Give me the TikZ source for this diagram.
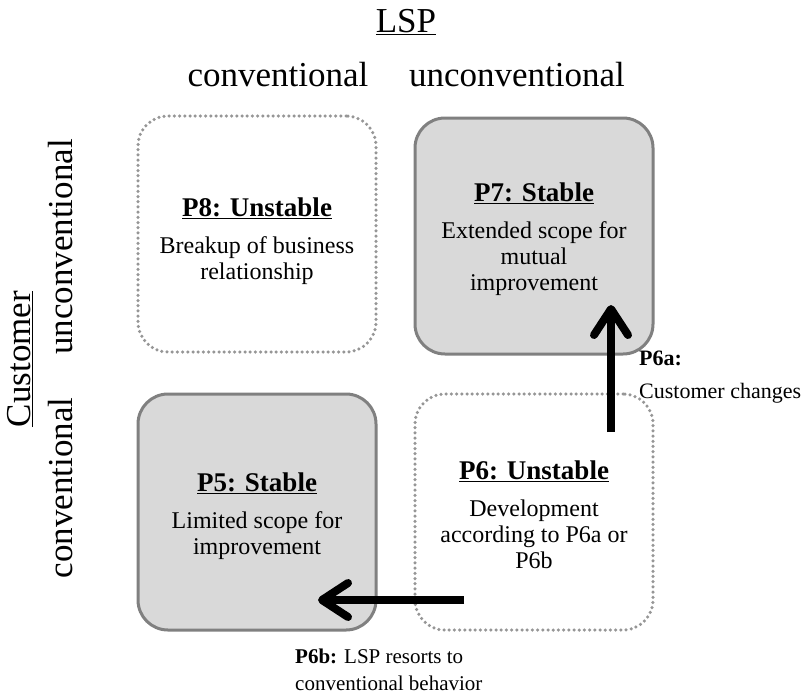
\documentclass[tikz,border=0pt]{standalone}
\usepackage{fontspec}
\setmainfont{Liberation Serif}
\usetikzlibrary{arrows.meta}
\definecolor{boxgray}{RGB}{217,217,217}
\definecolor{edgegray}{RGB}{128,128,128}
\definecolor{dotgray}{RGB}{150,150,150}
\newcommand\qtitle[1]{{\fontsize{27}{30}\selectfont\bfseries\underline{#1}}}
\begin{document}
\begin{tikzpicture}[x=1pt,y=-1pt,
  quad/.style={minimum width=238pt, minimum height=236pt, rounded corners=30pt, inner sep=0pt},
  stablebox/.style={quad, draw=edgegray, line width=3pt, fill=boxgray},
  unstablebox/.style={quad, draw=dotgray, line width=3.5pt,
    dash pattern=on 0pt off 5.2pt, line cap=round},
  quadtext/.style={align=center, inner sep=0pt, font=\fontsize{24}{26}\selectfont},
  axislabel/.style={font=\fontsize{35}{40}\selectfont, inner sep=0pt},
  sidelabel/.style={axislabel, rotate=90},
  movearrow/.style={line width=8pt, -{Straight Barb[length=26pt,width=34pt,round]}},
  movelabel/.style={align=left, inner sep=0pt}]
\useasboundingbox (0,0) rectangle (802,696);

% axis headings
\node[axislabel] (lsp) at (406,22) {\underline{LSP}};
\node[axislabel] (lspconv) at (278,75) {conventional};
\node[axislabel] (lspunconv) at (517,75) {unconventional};
\node[sidelabel] (cust) at (20,359) {\underline{Customer}};
\node[sidelabel] (custunconv) at (61,247) {unconventional};
\node[sidelabel] (custconv) at (61,488) {conventional};

% the four quadrants
\node[unstablebox] (p8) at (257,234) {};
\node[stablebox] (p7) at (534,236) {};
\node[stablebox] (p5) at (257,512) {};
\node[unstablebox] (p6) at (534,512) {};

\node[quadtext] (p8text) at (257,241) {\qtitle{P8: Unstable}\\[11pt]Breakup of business\\relationship};
\node[quadtext] (p7text) at (534,239) {\qtitle{P7: Stable}\\[11pt]Extended scope for\\mutual\\improvement};
\node[quadtext] (p5text) at (257,516.5) {\qtitle{P5: Stable}\\[11pt]Limited scope for\\improvement};
\node[quadtext] (p6text) at (534,514.5) {\qtitle{P6: Unstable}\\[11pt]Development\\according to P6a or\\P6b};

% transitions out of P6
\coordinate (p6a-from) at (611,432);
\coordinate (p6a-to) at (611,305);
\coordinate (p6b-from) at (464,600);
\coordinate (p6b-to) at (318,600);
\draw[movearrow] (p6a-from) -- (p6a-to);
\draw[movearrow] (p6b-from) -- (p6b-to);

\node[movelabel, anchor=west, font=\fontsize{22}{33}\selectfont] (l6a) at (639,377)
  {\textbf{P6a:}\\Customer changes};
\node[movelabel, anchor=west, font=\fontsize{21}{27}\selectfont] (l6b) at (295,670)
  {\textbf{P6b:} LSP resorts to\\conventional behavior};
\end{tikzpicture}
\end{document}
